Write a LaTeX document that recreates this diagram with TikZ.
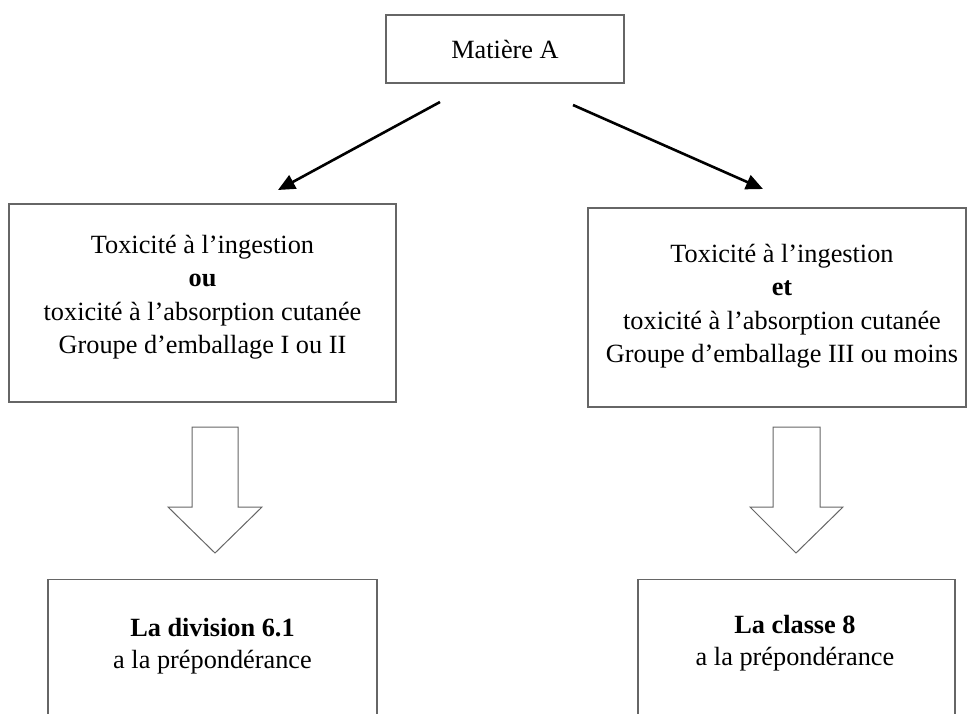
\documentclass[tikz,border=0pt]{standalone}
\usepackage{fontspec}
\setmainfont{Liberation Serif}
\usetikzlibrary{arrows.meta}
\tikzset{
  boxframe/.style={draw=black!60, line width=1.2pt, rectangle, inner sep=0pt},
  boxtext/.style={align=center, inner sep=0pt, font=\fontsize{26.3}{33.4}\selectfont},
  bottext/.style={align=center, inner sep=0pt, font=\fontsize{26.3}{31.5}\selectfont},
  thinarrow/.style={line width=2.6pt, -{Triangle[length=17pt,width=15pt]}},
  blockarrow/.style={draw=black!60, line width=1pt, fill=white, line join=miter}
}
\begin{document}
\begin{tikzpicture}[x=1pt,y=-1pt]
\useasboundingbox (0,0) rectangle (969,713);
% top box
\node[boxframe, minimum width=238pt, minimum height=68pt] (top) at (505,49) {};
\node[boxtext] (toptxt) at (505,49) {Matière A};
% middle boxes
\node[boxframe, minimum width=387pt, minimum height=198pt] (left) at (202.5,303) {};
\node[boxtext] (lefttxt) at (202.5,297) {Toxicité à l’ingestion\\ \textbf{ou}\\ toxicité à l’absorption cutanée\\ Groupe d’emballage I ou II};
\node[boxframe, minimum width=378pt, minimum height=199pt] (right) at (777,307.5) {};
\node[boxtext] (righttxt) at (782,306) {Toxicité à l’ingestion\\ \textbf{et}\\ toxicité à l’absorption cutanée\\ Groupe d’emballage III ou moins};
% bottom boxes (cut by the page edge)
\node[boxframe, minimum width=329pt, minimum height=180pt, anchor=north] (div) at (212.5,579) {};
\node[bottext] (divtxt) at (212.5,646) {\textbf{La division 6.1}\\ a la prépondérance};
\node[boxframe, minimum width=317pt, minimum height=180pt, anchor=north] (cls) at (796.5,579) {};
\node[bottext] (clstxt) at (795,643) {\textbf{La classe 8}\\ a la prépondérance};
% thin arrows
\coordinate (a1s) at (440,102);
\coordinate (a1e) at (278,190);
\coordinate (a2s) at (573,105);
\coordinate (a2e) at (763,189);
\draw[thinarrow] (a1s) -- (a1e);
\draw[thinarrow] (a2s) -- (a2e);
% block arrows
\draw[blockarrow] (192,427) -- (238,427) -- (238,507) -- (262,507) -- (215,553) -- (168,507) -- (192,507) -- cycle;
\draw[blockarrow] (773,427) -- (820,427) -- (820,507) -- (843,507) -- (796,553) -- (750,507) -- (773,507) -- cycle;
\end{tikzpicture}
\end{document}
